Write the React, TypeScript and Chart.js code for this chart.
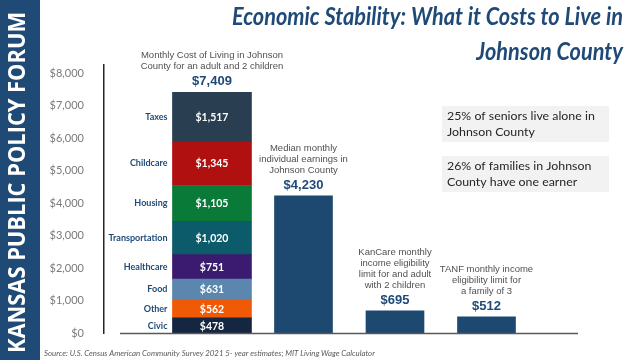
import React, { useEffect, useRef } from 'react';
import { Chart, registerables } from 'chart.js';

Chart.register(...registerables);

// ---------- data ----------
const costCategories = ['Civic', 'Other', 'Food', 'Healthcare', 'Transportation', 'Housing', 'Childcare', 'Taxes'];
const costValues = [478, 562, 631, 751, 1020, 1105, 1345, 1517];
const costColors = ['#152640', '#f05a06', '#5b86ae', '#3b1b70', '#0b5b6b', '#0a7a38', '#b11010', '#2a3e52'];
const costNote = ['Monthly Cost of Living in Johnson', 'County for an adult and 2 children'];

const comparisonValues = [4230, 695, 512];
const comparisonNotes = [
  ['Median monthly', 'individual earnings in', 'Johnson County'],
  ['KanCare monthly', 'income eligibility', 'limit for and adult', 'with 2 children'],
  ['TANF monthly income', 'eligibility limit for', 'a family of 3'],
];

const yMin = 0;
const yMax = 8250;
const yTickValues = [0, 1000, 2000, 3000, 4000, 5000, 6000, 7000, 8000];

const titleLines = ['Economic Stability: What it Costs to Live in', 'Johnson County'];
const facts = [
  ['25% of seniors live alone in', 'Johnson County'],
  ['26% of families in Johnson', 'County have one earner'],
];
const sourceText = 'Source: U.S. Census American Community Survey 2021 5- year estimates; MIT Living Wage Calculator';
const bannerText = 'KANSAS PUBLIC POLICY FORUM';

const money = (v: number) => '$' + Math.round(v).toLocaleString('en-US');

const NAVY = '#1f4a78';

function fitSize(ctx: CanvasRenderingContext2D, text: string, tpl: (s: number) => string, target: number) {
  const base = 20;
  ctx.font = tpl(base);
  const w = ctx.measureText(text).width;
  return (base * target) / w;
}

const decorPlugin = {
  id: 'decor',
  beforeDraw(chart: any) {
    const ctx: CanvasRenderingContext2D = chart.ctx;
    ctx.save();
    ctx.fillStyle = '#ffffff';
    ctx.fillRect(0, 0, chart.width, chart.height);

    // left banner
    ctx.fillStyle = '#1f4a75';
    ctx.fillRect(0, 0, 40, chart.height);
    ctx.save();
    ctx.translate(25, 353);
    ctx.rotate(-Math.PI / 2);
    ctx.font = "bold 23px 'Open Sans'";
    const bw = ctx.measureText(bannerText).width;
    ctx.scale(341 / bw, 1);
    ctx.fillStyle = '#ffffff';
    ctx.textAlign = 'left';
    ctx.textBaseline = 'alphabetic';
    ctx.fillText(bannerText, 0, 0);
    ctx.restore();

    // title (height from font size, width squeezed to match)
    ctx.save();
    ctx.font = 'italic bold 25px Lato';
    const tw = ctx.measureText(titleLines[0]).width;
    const k = 391 / tw;
    ctx.translate(623, 0);
    ctx.scale(k, 1);
    ctx.fillStyle = NAVY;
    ctx.textAlign = 'right';
    ctx.textBaseline = 'alphabetic';
    ctx.fillText(titleLines[0], 0, 25);
    ctx.fillText(titleLines[1], 0, 60);
    ctx.restore();

    // fact boxes
    const fTpl = (s: number) => `${s}px Lato`;
    const fs = fitSize(ctx, facts[0][0], fTpl, 148);
    const boxTops = [106, 156];
    facts.forEach((lines, i) => {
      ctx.fillStyle = '#f2f2f2';
      ctx.fillRect(442, boxTops[i], 167, 36);
      ctx.fillStyle = '#262626';
      ctx.font = fTpl(fs);
      ctx.textAlign = 'left';
      ctx.textBaseline = 'alphabetic';
      lines.forEach((l, j) => ctx.fillText(l, 447, boxTops[i] + 14 + j * 16));
    });

    // source
    const sTpl = (s: number) => `italic ${s}px Lato`;
    const ss = fitSize(ctx, sourceText, sTpl, 331);
    ctx.font = sTpl(ss);
    ctx.fillStyle = '#595959';
    ctx.textAlign = 'left';
    ctx.fillText(sourceText, 44, 356);
    ctx.restore();
  },
  afterDatasetsDraw(chart: any) {
    const ctx: CanvasRenderingContext2D = chart.ctx;
    const area = chart.chartArea;
    ctx.save();

    // baseline
    ctx.strokeStyle = '#595959';
    ctx.lineWidth = 1.5;
    ctx.beginPath();
    ctx.moveTo(area.left + 16, area.bottom);
    ctx.lineTo(area.right, area.bottom);
    ctx.stroke();

    // segment labels
    let topY = area.bottom;
    let barX = 0;
    costValues.forEach((v, i) => {
      const el = chart.getDatasetMeta(i).data[0];
      const p = el.getProps(['x', 'y', 'base', 'width'], true);
      const cy = (p.y + p.base) / 2;
      ctx.textBaseline = 'middle';
      ctx.fillStyle = NAVY;
      ctx.font = 'bold 9px Lato';
      ctx.textAlign = 'right';
      ctx.fillText(costCategories[i], p.x - p.width / 2 - 5, cy);
      ctx.fillStyle = '#ffffff';
      ctx.font = 'bold 10.5px Lato';
      ctx.textAlign = 'center';
      ctx.fillText(money(v), p.x, cy + 0.5);
      topY = Math.min(topY, p.y);
      barX = p.x;
    });

    const drawNote = (x: number, top: number, lines: string[], value: number) => {
      const vb = top - 7;
      ctx.textAlign = 'center';
      ctx.textBaseline = 'alphabetic';
      ctx.fillStyle = NAVY;
      ctx.font = "bold 13px 'Liberation Sans'";
      ctx.fillText(money(value), x, vb);
      ctx.fillStyle = '#505050';
      ctx.font = "9.5px 'Liberation Sans'";
      lines.forEach((l, j) => {
        ctx.fillText(l, x, vb - 16 - (lines.length - 1 - j) * 11);
      });
    };

    const total = costValues.reduce((a, b) => a + b, 0);
    drawNote(barX, topY, costNote, total);

    const cmpMeta = chart.getDatasetMeta(costValues.length);
    comparisonValues.forEach((v, k) => {
      const p = cmpMeta.data[k].getProps(['x', 'y'], true);
      drawNote(p.x, p.y, comparisonNotes[k], v);
    });
    ctx.restore();
  },
};

export default function App() {
  const ref = useRef<HTMLCanvasElement | null>(null);

  useEffect(() => {
    document.body.style.margin = '0';
    if (!ref.current) return;
    const datasets: any[] = costValues.map((v, i) => ({
      label: costCategories[i],
      data: [{ x: 1, y: v }],
      backgroundColor: costColors[i],
      barThickness: 79,
    }));
    datasets.push({
      label: 'Comparison',
      data: comparisonValues.map((v, k) => ({ x: k + 2, y: v })),
      backgroundColor: '#1d4870',
      barThickness: 58,
    });

    const chart = new Chart(ref.current, {
      type: 'bar',
      data: { datasets },
      options: {
        responsive: false,
        animation: false,
        devicePixelRatio: 1,
        layout: { padding: { top: 65, bottom: 22, left: 0, right: 64 } },
        plugins: { legend: { display: false }, tooltip: { enabled: false } },
        scales: {
          x: {
            type: 'linear',
            stacked: true,
            offset: false,
            min: -0.18,
            max: 5,
            display: false,
          },
          y: {
            stacked: true,
            min: yMin,
            max: yMax,
            afterFit: (scale: any) => {
              scale.width = 104;
            },
            afterBuildTicks: (scale: any) => {
              scale.ticks = yTickValues.map((value) => ({ value }));
            },
            grid: { display: false, drawTicks: false },
            border: { display: true, color: '#262626', width: 1.5 },
            ticks: {
              padding: 20,
              color: '#7a7a7a',
              font: { family: 'Lato', size: 11 },
              callback: (v: any) => money(Number(v)),
            },
          },
        },
      },
      plugins: [decorPlugin],
    } as any);
    return () => chart.destroy();
  }, []);

  return (
    <div style={{ width: 642, height: 360 }}>
      <canvas ref={ref} width={642} height={360} style={{ display: 'block' }} />
    </div>
  );
}
